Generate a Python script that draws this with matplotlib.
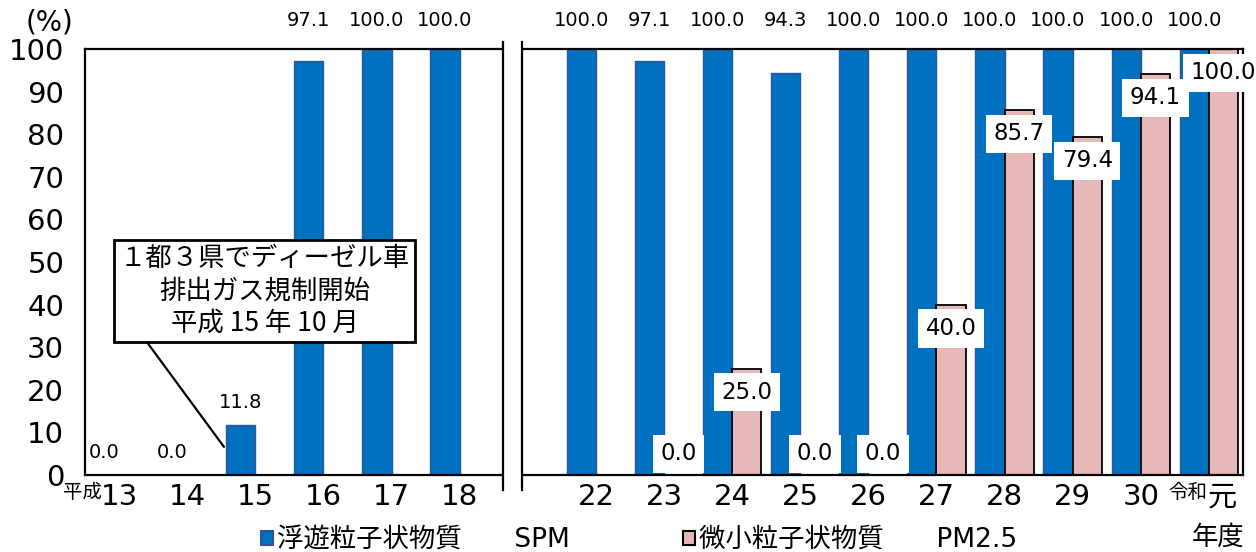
import matplotlib
matplotlib.use('Agg')
import matplotlib.pyplot as plt
import numpy as np
from matplotlib.patches import Rectangle
from matplotlib.transforms import ScaledTranslation

plt.rcParams['font.family'] = ['DejaVu Sans', 'Noto Sans CJK JP']

nan = np.nan
categories = ['13', '14', '15', '16', '17', '18', '', '22', '23', '24', '25', '26',
              '27', '28', '29', '30', '元']
spm = [0.0, 0.0, 11.8, 97.1, 100.0, 100.0, nan, 100.0, 97.1, 100.0, 94.3, 100.0,
       100.0, 100.0, 100.0, 100.0, 100.0]
pm25 = [nan, nan, nan, nan, nan, nan, nan, nan, 0.0, 25.0, 0.0, 0.0,
        40.0, 85.7, 79.4, 94.1, 100.0]
series_names = ['浮遊粒子状物質\u3000\u2003SPM', '微小粒子状物質\u3000\u2003PM2.5']
note = '１都３県でディーゼル車\n排出ガス規制開始\n平成 15 年 10 月'

W, H = 1256, 552
fig = plt.figure(figsize=(W / 100, H / 100), dpi=100)
ax = fig.add_axes([85 / W, 77 / H, (1243 - 85) / W, (475 - 49) / H])

blue = '#0070C0'
pink = '#E6B9B8'
x = np.arange(len(categories))
w = 0.43
ax.bar(x - w / 2, spm, w, color=blue, edgecolor='#2F5597', lw=1, zorder=2)
ax.bar(x + w / 2, pm25, w, color=pink, edgecolor='black', lw=1.3, zorder=2)

ax.set_xlim(-0.5, len(categories) - 0.5)
ax.set_ylim(0, 100)
ax.set_yticks(np.arange(0, 101, 10))
ax.set_xticks(x)
ax.set_xticklabels(categories)
ax.tick_params(axis='both', length=0, labelsize=21)
ax.tick_params(axis='x', pad=6)
ax.tick_params(axis='y', pad=15)
for s in ax.spines.values():
    s.set_linewidth(1.6)
    s.set_color('black')

lbl = ax.get_xticklabels()[-1]
lbl.set_transform(lbl.get_transform() + ScaledTranslation(13 / 100, 0, fig.dpi_scale_trans))

# SPM labels
for xi, v in zip(x, spm):
    if np.isnan(v):
        continue
    y = 106.8 if v >= 90 else v + 5.3
    ax.text(xi - w / 2, y, f'{v:.1f}', ha='center', va='center', fontsize=14,
            clip_on=False, zorder=7)

# PM2.5 labels
for xi, v in zip(x, pm25):
    if np.isnan(v):
        continue
    y = 5.0 if v == 0 else v - 5.6
    ax.text(xi + w / 2, y, f'{v:.1f}', ha='center', va='center', fontsize=16.5,
            zorder=7, bbox=dict(boxstyle='square,pad=0.33', fc='white', ec='none'))

# axis break
b0, b1 = 5.64, 5.92
ax.add_patch(Rectangle((b0, -5), b1 - b0, 112, fc='white', ec='none',
                       clip_on=False, zorder=4))
for bx in (b0, b1):
    ax.plot([bx, bx], [-3.6, 101.7], color='black', lw=1.6, clip_on=False, zorder=5)

# annotation
ax.annotate(note, xy=(1.54, 6.6), xytext=(2.14, 43.2), ha='center', va='center',
            fontsize=19, linespacing=1.25, zorder=8,
            family=['Noto Sans CJK JP', 'DejaVu Sans'],
            bbox=dict(boxstyle='square,pad=0.2', fc='white', ec='black', lw=2),
            arrowprops=dict(arrowstyle='-', color='black', lw=1.6, relpos=(0.08, 0),
                            shrinkA=0, shrinkB=0))

# extra texts
fig.text(50 / W, 1 - 22 / H, '(%)', ha='center', va='center', fontsize=20)
fig.text(83 / W, 1 - 492 / H, '平成', ha='center', va='center', fontsize=14)
fig.text(1188 / W, 1 - 492 / H, '令和', ha='center', va='center', fontsize=14)
fig.text(1218 / W, 1 - 538 / H, '年度', ha='center', va='center', fontsize=19)

handles = [Rectangle((0, 0), 1, 1, fc=blue, ec='#2F5597', lw=1.5),
           Rectangle((0, 0), 1, 1, fc=pink, ec='black', lw=1.5)]
fig.legend(handles, series_names, loc='center', bbox_to_anchor=(639 / W, 1 - 540 / H),
           ncol=2, frameon=False, fontsize=19, handlelength=0.45, handleheight=0.45,
           handletextpad=0.15, columnspacing=4.3, borderpad=0)

fig.savefig('out.png', dpi=100)
